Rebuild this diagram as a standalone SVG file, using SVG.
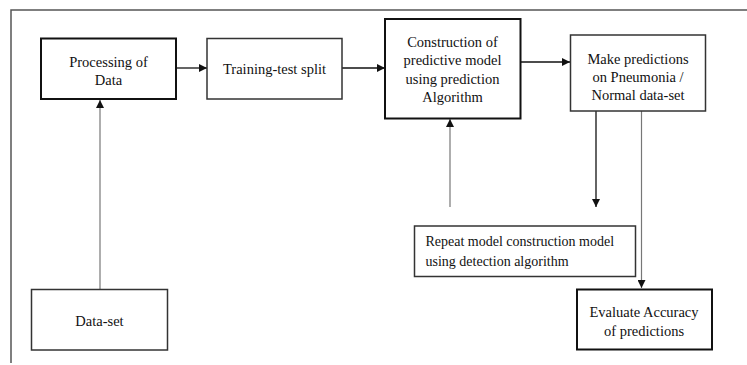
<svg xmlns="http://www.w3.org/2000/svg" width="747" height="365" viewBox="0 0 747 365">
<style>
.t{font-family:'Liberation Serif','DejaVu Serif','Times New Roman',serif;font-size:14.5px;fill:#111;}
.c{text-anchor:middle;}
.thick{fill:#fff;stroke:#111;stroke-width:2;}
.thin{fill:#fff;stroke:#333;stroke-width:1.5;}
.blk{stroke:#111;stroke-width:1.3;fill:none;}
.gry{stroke:#777;stroke-width:1.2;fill:none;}
</style>
<defs>
<marker id="ah" viewBox="0 0 10 10" refX="10" refY="5" markerWidth="8" markerHeight="8" markerUnits="userSpaceOnUse" orient="auto"><path d="M0,0 L10,5 L0,10 z" fill="#111"/></marker>
</defs>
<rect width="747" height="365" fill="#fff"/>
<path d="M11,363 V10 H747" fill="none" stroke="#555" stroke-width="1.5"/>
<g id="connectors">
<line class="blk" x1="176" y1="68" x2="207" y2="68" marker-end="url(#ah)"/>
<line class="blk" x1="342" y1="68" x2="385" y2="68" marker-end="url(#ah)"/>
<line class="blk" x1="521" y1="62" x2="570" y2="62" marker-end="url(#ah)"/>
<line class="gry" x1="100" y1="289" x2="100" y2="100" marker-end="url(#ah)"/>
<line class="gry" x1="450" y1="207" x2="450" y2="119" marker-end="url(#ah)"/>
<line class="blk" x1="596" y1="111" x2="596" y2="207" marker-end="url(#ah)"/>
<line class="gry" x1="641.5" y1="111" x2="641.5" y2="288" marker-end="url(#ah)"/>
</g>
<g id="n-processing" class="t" font-family="Liberation Serif, serif">
<rect class="thick" x="41" y="38.5" width="135" height="60.5"/>
<text class="c" x="108.5" y="66.5">Processing of</text>
<text class="c" x="108.5" y="84.5">Data</text>
</g>
<g id="n-split" class="t" font-family="Liberation Serif, serif">
<rect class="thin" x="207" y="38.5" width="135" height="60.5"/>
<text class="c" x="274.5" y="74">Training-test split</text>
</g>
<g id="n-construction" class="t" font-family="Liberation Serif, serif">
<rect class="thick" x="385" y="19" width="135.5" height="99.5"/>
<text class="c" x="452.5" y="46.5">Construction of</text>
<text class="c" x="452.5" y="65">predictive model</text>
<text class="c" x="452.5" y="83.5">using prediction</text>
<text class="c" x="452.5" y="102">Algorithm</text>
</g>
<g id="n-predictions" class="t" font-family="Liberation Serif, serif">
<rect class="thin" x="570.5" y="35" width="135" height="76"/>
<text class="c" x="638" y="63.5">Make predictions</text>
<text class="c" x="638" y="82">on Pneumonia /</text>
<text class="c" x="638" y="100">Normal data-set</text>
</g>
<g id="n-dataset" class="t" font-family="Liberation Serif, serif">
<rect class="thin" x="31.5" y="289.5" width="136" height="60.5"/>
<text class="c" x="99.5" y="326">Data-set</text>
</g>
<g id="n-repeat" class="t" font-family="Liberation Serif, serif">
<rect class="thin" x="414.5" y="226" width="221" height="50.5"/>
<text x="425.5" y="246" font-size="14px">Repeat model construction model</text>
<text x="425.5" y="265.5" font-size="14px">using detection algorithm</text>
</g>
<g id="n-evaluate" class="t" font-family="Liberation Serif, serif">
<rect class="thick" x="577" y="289.5" width="135" height="60"/>
<text class="c" x="644" y="317">Evaluate Accuracy</text>
<text class="c" x="644" y="335.5">of predictions</text>
</g>
</svg>
